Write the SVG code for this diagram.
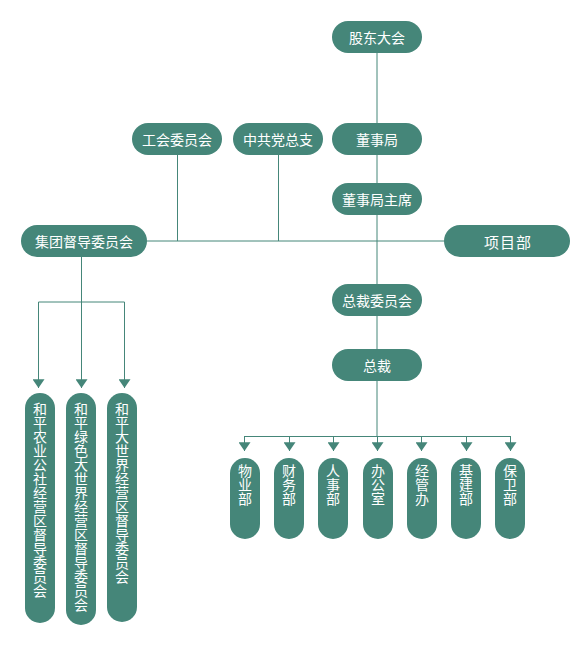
<svg xmlns="http://www.w3.org/2000/svg" width="580" height="652" viewBox="0 0 580 652">
<style>
.n{fill:#458679}
.t{fill:#ffffff;font-family:"Noto Sans CJK SC","Noto Sans",sans-serif;font-size:14px;text-anchor:middle;dominant-baseline:central}
.v{fill:#ffffff;font-family:"Noto Sans CJK SC","Noto Sans",sans-serif;font-size:14px;writing-mode:vertical-rl;text-anchor:start}
.c{stroke:#458679;stroke-width:1;fill:none}
</style>
<defs>
<marker id="ah" markerUnits="userSpaceOnUse" markerWidth="12" markerHeight="9" refX="5.5" refY="8" orient="0" viewBox="0 0 11 8">
<path d="M0,0 L11,0 L5.5,8 z" fill="#458679"/>
</marker>
</defs>
<rect width="580" height="652" fill="#ffffff"/>
<g id="connectors">
<line class="c" x1="377" y1="53" x2="377" y2="436"/>
<line class="c" x1="147" y1="241" x2="444" y2="241"/>
<line class="c" x1="177.5" y1="155" x2="177.5" y2="241"/>
<line class="c" x1="278.5" y1="155" x2="278.5" y2="241"/>
<line class="c" x1="81.5" y1="257" x2="81.5" y2="388" marker-end="url(#ah)"/>
<line class="c" x1="38.5" y1="302" x2="124.5" y2="302"/>
<line class="c" x1="38.5" y1="302" x2="38.5" y2="388" marker-end="url(#ah)"/>
<line class="c" x1="124.5" y1="302" x2="124.5" y2="388" marker-end="url(#ah)"/>
<line class="c" x1="244.5" y1="436.5" x2="510.5" y2="436.5"/>
<line class="c" x1="244.5" y1="436" x2="244.5" y2="451" marker-end="url(#ah)"/>
<line class="c" x1="289.5" y1="436" x2="289.5" y2="451" marker-end="url(#ah)"/>
<line class="c" x1="333.5" y1="436" x2="333.5" y2="451" marker-end="url(#ah)"/>
<line class="c" x1="377.5" y1="436" x2="377.5" y2="451" marker-end="url(#ah)"/>
<line class="c" x1="421.5" y1="436" x2="421.5" y2="451" marker-end="url(#ah)"/>
<line class="c" x1="466.5" y1="436" x2="466.5" y2="451" marker-end="url(#ah)"/>
<line class="c" x1="510.5" y1="436" x2="510.5" y2="451" marker-end="url(#ah)"/>
</g>
<g id="gudong"><rect class="n" x="332" y="21" width="90" height="32" rx="16"/><text class="t" x="377" y="37">股东大会</text></g>
<g id="dongshiju"><rect class="n" x="332" y="123" width="90" height="32" rx="16"/><text class="t" x="377" y="139">董事局</text></g>
<g id="zhuxi"><rect class="n" x="332" y="183" width="90" height="32" rx="16"/><text class="t" x="377" y="199">董事局主席</text></g>
<g id="gonghui"><rect class="n" x="132" y="123" width="90" height="32" rx="16"/><text class="t" x="177" y="139">工会委员会</text></g>
<g id="dangzhi"><rect class="n" x="233" y="123" width="90" height="32" rx="16"/><text class="t" x="278" y="139">中共党总支</text></g>
<g id="jituan"><rect class="n" x="21" y="225" width="126" height="32" rx="16"/><text class="t" x="84" y="241">集团督导委员会</text></g>
<g id="xiangmu"><rect class="n" x="444" y="225" width="126" height="32" rx="16"/><text class="t" x="508" y="241" style="font-size:15px;letter-spacing:1px">项目部</text></g>
<g id="zongcaiwei"><rect class="n" x="332" y="284" width="90" height="32" rx="16"/><text class="t" x="377" y="300">总裁委员会</text></g>
<g id="zongcai"><rect class="n" x="332" y="349" width="90" height="32" rx="16"/><text class="t" x="377" y="365">总裁</text></g>
<g id="nongye"><rect class="n" x="25" y="393" width="30" height="230" rx="15"/><text class="v" x="40" y="402">和平农业公社经营区督导委员会</text></g>
<g id="lvse"><rect class="n" x="66" y="393" width="30" height="232" rx="15"/><text class="v" x="81" y="402">和平绿色大世界经营区督导委员会</text></g>
<g id="dashijie"><rect class="n" x="107" y="393" width="30" height="229" rx="15"/><text class="v" x="122" y="402">和平大世界经营区督导委员会</text></g>
<g id="wuye"><rect class="n" x="230" y="458" width="30" height="81" rx="15"/><text class="v" x="245" y="464">物业部</text></g>
<g id="caiwu"><rect class="n" x="274" y="458" width="30" height="81" rx="15"/><text class="v" x="289" y="464">财务部</text></g>
<g id="renshi"><rect class="n" x="318" y="458" width="30" height="81" rx="15"/><text class="v" x="333" y="464">人事部</text></g>
<g id="bangong"><rect class="n" x="363" y="458" width="30" height="81" rx="15"/><text class="v" x="378" y="464">办公室</text></g>
<g id="jingguan"><rect class="n" x="407" y="458" width="30" height="81" rx="15"/><text class="v" x="422" y="464">经管办</text></g>
<g id="jijian"><rect class="n" x="451" y="458" width="30" height="81" rx="15"/><text class="v" x="466" y="464">基建部</text></g>
<g id="baowei"><rect class="n" x="495" y="458" width="30" height="81" rx="15"/><text class="v" x="510" y="464">保卫部</text></g>
</svg>
